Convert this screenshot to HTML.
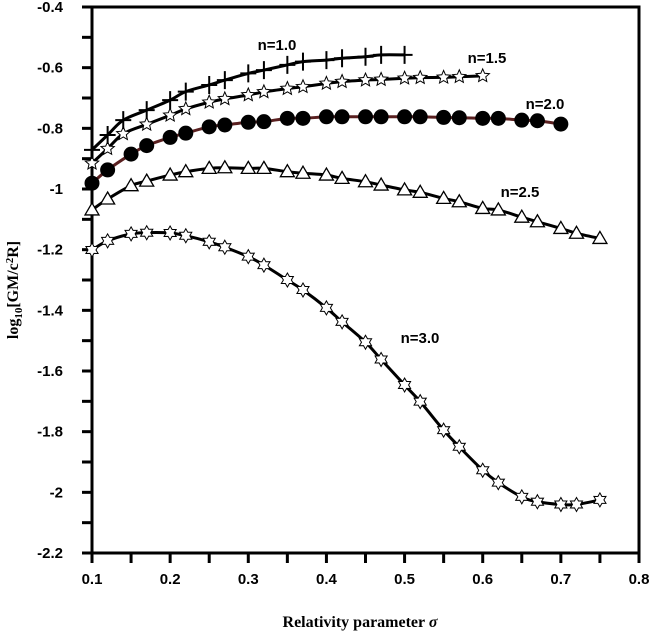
<!DOCTYPE html>
<html><head><meta charset="utf-8"><style>
html,body{margin:0;padding:0;background:#fff;}
svg{display:block;}
text{font-family:"Liberation Sans",Arial,sans-serif;font-weight:bold;}
</style></head><body>
<svg id="chart" width="650" height="632" viewBox="0 0 650 632" xmlns="http://www.w3.org/2000/svg"></svg>
<script>
const sig1=[0.10,0.12,0.14,0.17,0.20,0.22,0.25,0.27,0.30,0.32,0.35,0.37,0.40,0.42,0.45,0.47,0.50];
const val1=[-0.871,-0.822,-0.773,-0.74,-0.707,-0.679,-0.657,-0.641,-0.619,-0.608,-0.591,-0.58,-0.575,-0.569,-0.564,-0.558,-0.558];
const sig15=[0.10,0.12,0.14,0.17,0.20,0.22,0.25,0.27,0.30,0.32,0.35,0.37,0.40,0.42,0.45,0.47,0.50,0.52,0.55,0.57,0.60];
const val15=[-0.915,-0.867,-0.818,-0.787,-0.757,-0.736,-0.714,-0.703,-0.69,-0.68,-0.669,-0.663,-0.652,-0.646,-0.641,-0.639,-0.635,-0.633,-0.632,-0.63,-0.627];
const sig2=[0.10,0.12,0.15,0.17,0.20,0.22,0.25,0.27,0.30,0.32,0.35,0.37,0.40,0.42,0.45,0.47,0.50,0.52,0.55,0.57,0.60,0.62,0.65,0.67,0.70];
const val2=[-0.981,-0.937,-0.885,-0.857,-0.830,-0.816,-0.795,-0.789,-0.780,-0.778,-0.767,-0.767,-0.762,-0.762,-0.762,-0.762,-0.762,-0.762,-0.764,-0.765,-0.767,-0.767,-0.773,-0.775,-0.786];
const sig25=[0.10,0.12,0.15,0.17,0.20,0.22,0.25,0.27,0.30,0.32,0.35,0.37,0.40,0.42,0.45,0.47,0.50,0.52,0.55,0.57,0.60,0.62,0.65,0.67,0.70,0.72,0.75];
const val25=[-1.069,-1.033,-0.989,-0.974,-0.954,-0.943,-0.932,-0.930,-0.932,-0.932,-0.943,-0.948,-0.954,-0.965,-0.976,-0.987,-1.003,-1.011,-1.031,-1.042,-1.064,-1.069,-1.093,-1.108,-1.13,-1.146,-1.163];
const sig3=[0.10,0.12,0.15,0.17,0.20,0.22,0.25,0.27,0.30,0.32,0.35,0.37,0.40,0.42,0.45,0.47,0.50,0.52,0.55,0.57,0.60,0.62,0.65,0.67,0.70,0.72,0.75];
const val3=[-1.201,-1.171,-1.148,-1.144,-1.145,-1.154,-1.174,-1.192,-1.223,-1.251,-1.30,-1.333,-1.392,-1.438,-1.505,-1.562,-1.646,-1.701,-1.795,-1.85,-1.927,-1.968,-2.015,-2.031,-2.04,-2.04,-2.025];
const xTicks=["0.1","0.2","0.3","0.4","0.5","0.6","0.7","0.8"];
const yTicks=["-0.4","-0.6","-0.8","-1","-1.2","-1.4","-1.6","-1.8","-2","-2.2"];

const L=92,R=639,T=7,B=553,X0=0.1,X1=0.8,Y0=-2.2,Y1=-0.4;
const sx=v=>L+(v-X0)/(X1-X0)*(R-L);
const sy=v=>B-(v-Y0)/(Y1-Y0)*(B-T);
const NS="http://www.w3.org/2000/svg";
const svg=document.getElementById('chart');
function mk(tag,attrs,parent){const e=document.createElementNS(NS,tag);for(const k in attrs)e.setAttribute(k,attrs[k]);(parent||svg).appendChild(e);return e;}

const axes=mk('g',{});


for(let i=0;i<=14;i++){const v=0.1+i*0.05;const x=sx(v);
 mk('line',{x1:x,y1:B,x2:x,y2:B+10,stroke:'#000','stroke-width':3},axes);}
for(let i=0;i<=18;i++){const v=-2.2+i*0.1;const y=sy(v);
 mk('line',{x1:L-10,y1:y,x2:L,y2:y,stroke:'#000','stroke-width':3},axes);}
mk('rect',{x:L,y:T,width:R-L,height:B-T,fill:'none',stroke:'#000','stroke-width':3},axes);
xTicks.forEach(t=>{const e=mk('text',{x:sx(parseFloat(t)),y:584,'text-anchor':'middle','font-size':15},axes);e.textContent=t;
 
 });
yTicks.forEach(t=>{const e=mk('text',{x:63,y:sy(parseFloat(t))+5,'text-anchor':'end','font-size':15},axes);e.textContent=t;
 
 });

function curve(xs,ys,color,name){
 const p=xs.map((x,i)=>[sx(x),sy(ys[i])]);
 let d='M'+p[0][0]+','+p[0][1];
 for(let i=0;i<p.length-1;i++){const p0=p[Math.max(0,i-1)],p1=p[i],p2=p[i+1],p3=p[Math.min(p.length-1,i+2)];
  const c1=[p1[0]+(p2[0]-p0[0])/6,p1[1]+(p2[1]-p0[1])/6],c2=[p2[0]-(p3[0]-p1[0])/6,p2[1]-(p3[1]-p1[1])/6];
  d+=' C'+c1+' '+c2+' '+p2;}
 const e=mk('path',{d:d,fill:'none',stroke:color,'stroke-width':3});
 
 
}
function starPts(cx,cy,n,ro,ri){let s=[];for(let k=0;k<2*n;k++){const a=-Math.PI/2+k*Math.PI/n;const r=k%2?ri:ro;s.push((cx+r*Math.cos(a)).toFixed(1)+','+(cy+r*Math.sin(a)).toFixed(1));}return s.join(' ');}
function markers(xs,ys,type,name){
 const g=mk('g',{});
 
 
 xs.forEach((x,i)=>{const cx=sx(x),cy=sy(ys[i]);
  if(type==='plus'){mk('path',{d:`M${cx-8},${cy}H${cx+8}M${cx},${cy-9}V${cy+9}`,stroke:'#000','stroke-width':2},g);}
  else if(type==='circle'){mk('circle',{cx:cx,cy:cy,r:7.5,fill:'#000'},g);}
  else if(type==='tri'){mk('polygon',{points:`${cx},${cy-7} ${cx+7},${cy+5} ${cx-7},${cy+5}`,fill:'#fff',stroke:'#000','stroke-width':1.3},g);}
  else if(type==='star5'){mk('polygon',{points:starPts(cx,cy,5,7,3.2),fill:'#fff',stroke:'#000','stroke-width':1},g);}
  else if(type==='star6'){mk('polygon',{points:starPts(cx,cy,6,7,4),fill:'#fff',stroke:'#000','stroke-width':1},g);}
 });
}
curve(sig1,val1,'#000','line-n1');
curve(sig15,val15,'#000','line-n15');
curve(sig2,val2,'#5a2020','line-n2');
curve(sig25,val25,'#000','line-n25');
curve(sig3,val3,'#000','line-n3');
markers(sig15,val15,'star5','markers-n15');
markers(sig1,val1,'plus','markers-n1');
markers(sig2,val2,'circle','markers-n2');
markers(sig25,val25,'tri','markers-n25');
markers(sig3,val3,'star6','markers-n3');

const labels=[["n=1.0",277,50],["n=1.5",487,63],["n=2.0",545,109],["n=2.5",520,197],["n=3.0",420,343]];
labels.forEach(l=>{const e=mk('text',{x:l[1],y:l[2],'text-anchor':'middle','font-size':15});e.textContent=l[0];
 
 });
</script>
<svg style="position:absolute;left:0;top:0" width="650" height="632">
<text x="360" y="627" text-anchor="middle" style="font-family:'Liberation Serif',serif;font-weight:bold;font-size:16px">Relativity parameter <tspan font-style="italic">σ</tspan></text>
<text transform="translate(18,290) rotate(-90)" text-anchor="middle" style="font-family:'Liberation Serif',serif;font-weight:bold;font-size:16px">log<tspan font-size="11" dy="4">10</tspan><tspan dy="-4">[GM/c</tspan><tspan font-size="11" dy="-5">2</tspan><tspan dy="5">R]</tspan></text>
</svg>
</body></html>
